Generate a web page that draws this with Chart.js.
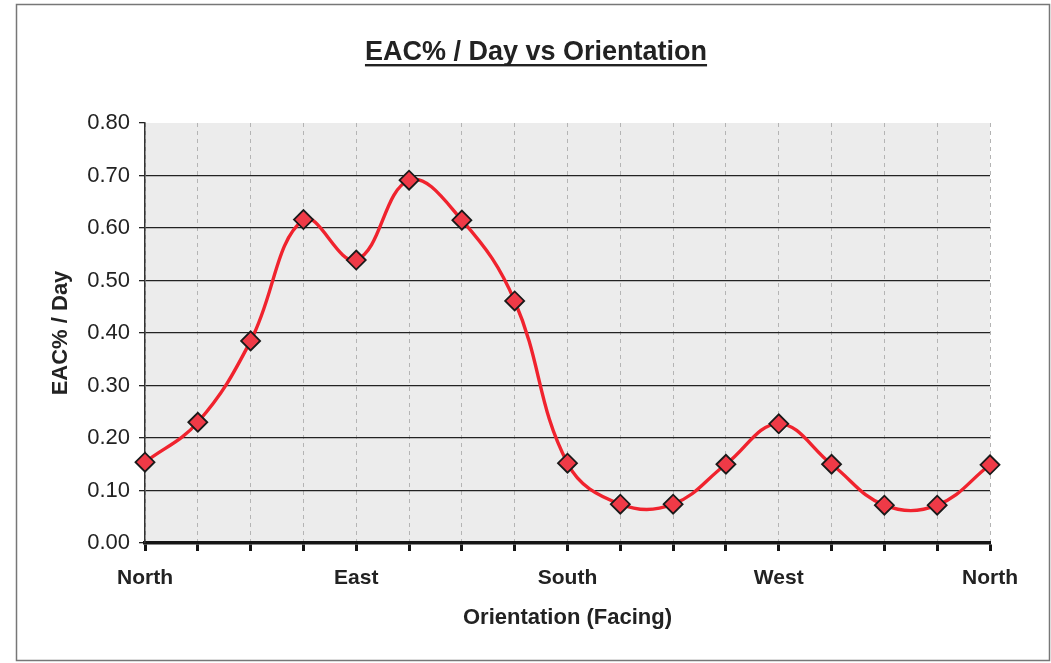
<!DOCTYPE html>
<html>
<head>
<meta charset="utf-8">
<title>EAC% / Day vs Orientation</title>
<script src="https://cdn.jsdelivr.net/npm/chart.js@4/dist/chart.umd.min.js"></script>
<style>
  html, body { margin: 0; padding: 0; background: #ffffff; }
  canvas { display: block; }
</style>
</head>
<body>
<canvas id="c" width="1051" height="663"></canvas>
<script>
// Facing direction, every 22.5 degrees from North round to North
const bearings = [0, 22.5, 45, 67.5, 90, 112.5, 135, 157.5, 180, 202.5, 225, 247.5, 270, 292.5, 315, 337.5, 360];
const orientationLabels = ['North', '', '', '', 'East', '', '', '', 'South', '', '', '', 'West', '', '', '', 'North'];
// EAC% per day for each orientation
const eacPerDay = [0.154, 0.230, 0.385, 0.616, 0.539, 0.691, 0.615, 0.461, 0.152, 0.074, 0.074, 0.150, 0.227, 0.150, 0.072, 0.072, 0.149];
const yTicks = { min: 0, max: 0.8, step: 0.1 };

const FONT = "'Liberation Sans', Arial, sans-serif";

const framePlugin = {
  id: 'frame',
  beforeDraw(chart) {
    const { ctx, chartArea: a } = chart;
    ctx.save();
    ctx.fillStyle = '#ffffff';
    ctx.fillRect(0, 0, chart.width, chart.height);
    ctx.fillStyle = '#ececec';
    ctx.fillRect(a.left, a.top, a.right - a.left, a.bottom - a.top);
    ctx.restore();
  },
  afterDraw(chart) {
    const { ctx } = chart;
    ctx.save();
    // outer border
    ctx.strokeStyle = '#777777';
    ctx.lineWidth = 1.5;
    ctx.strokeRect(16.5, 4.5, 1033, 656);
    // underlined heading
    const text = 'EAC% / Day vs Orientation';
    ctx.font = 'bold 27px ' + FONT;
    ctx.fillStyle = '#222222';
    ctx.textAlign = 'center';
    ctx.textBaseline = 'alphabetic';
    const cx = 536, base = 60;
    ctx.fillText(text, cx, base);
    const w = ctx.measureText(text).width;
    ctx.fillRect(cx - w / 2, base + 4, w, 2.4);
    ctx.restore();
  }
};

new Chart(document.getElementById('c'), {
  type: 'line',
  data: {
    labels: orientationLabels,
    datasets: [{
      label: 'EAC% / Day',
      data: eacPerDay,
      borderColor: '#f0232e',
      borderWidth: 3.4,
      tension: 0.4,
      fill: false,
      pointStyle: 'rectRot',
      pointRadius: 9.5,
      pointHoverRadius: 9.5,
      pointBackgroundColor: '#ef3a47',
      pointBorderColor: '#1a1a1a',
      pointBorderWidth: 1.8
    }]
  },
  options: {
    responsive: false,
    animation: false,
    events: [],
    layout: { padding: { left: 40, right: 61, top: 123, bottom: 23 } },
    plugins: {
      legend: { display: false },
      title: { display: false },
      tooltip: { enabled: false }
    },
    scales: {
      x: {
        type: 'category',
        offset: false,
        afterFit(scale) { scale.height = 97; },
        grid: {
          display: true,
          color: '#b4b4b4',
          lineWidth: 1,
          drawTicks: true,
          tickLength: 8,
          tickWidth: 3,
          tickColor: '#151515'
        },
        border: { display: true, color: '#151515', width: 3.5, dash: [4, 4] },
        ticks: {
          autoSkip: false,
          maxRotation: 0,
          minRotation: 0,
          padding: 15,
          color: '#222222',
          font: { family: FONT, size: 21, weight: 'bold' }
        },
        title: {
          display: true,
          text: 'Orientation (Facing)',
          color: '#222222',
          padding: { top: 4, bottom: 9 },
          font: { family: FONT, size: 22, weight: 'bold' }
        }
      },
      y: {
        min: yTicks.min,
        max: yTicks.max,
        afterFit(scale) { scale.width = 105; },
        grid: {
          color(ctx) {
            const v = ctx.tick ? ctx.tick.value : null;
            if (v === null) return '#222222';
            if (Math.abs(v - yTicks.max) < 1e-6 || Math.abs(v) < 1e-6) return 'rgba(0,0,0,0)';
            return '#222222';
          },
          lineWidth: 1.3,
          drawTicks: true,
          tickLength: 6,
          tickColor: '#222222',
          tickWidth: 1.3
        },
        border: { display: true, color: '#333333', width: 1.5 },
        ticks: {
          stepSize: yTicks.step,
          padding: 9,
          color: '#222222',
          font: { family: FONT, size: 22 },
          callback: (v) => Number(v).toFixed(2)
        },
        title: {
          display: true,
          text: 'EAC% / Day',
          color: '#222222',
          padding: { top: 8, bottom: 4 },
          font: { family: FONT, size: 22, weight: 'bold' }
        }
      }
    }
  },
  plugins: [framePlugin]
});
</script>
</body>
</html>
